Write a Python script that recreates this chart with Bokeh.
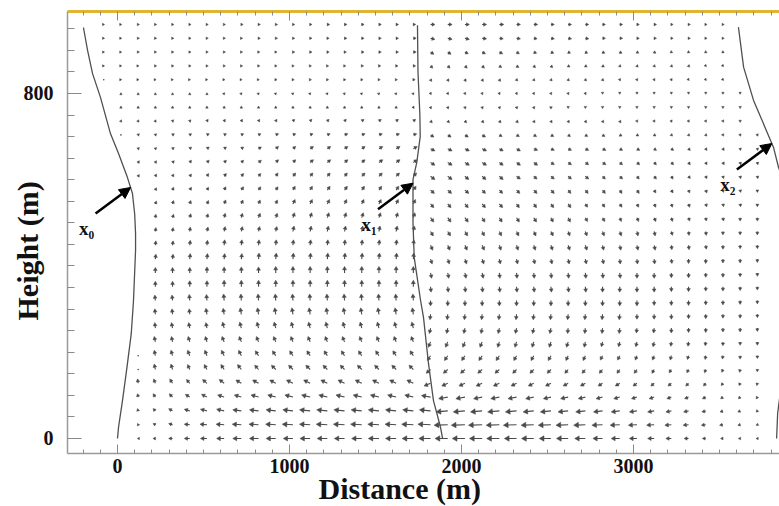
import math
import numpy as np
from bokeh.plotting import figure
from bokeh.models import (ColumnDataSource, Range1d, FixedTicker, LinearAxis,
                          Arrow, NormalHead, Title)
from bokeh.core.properties import value
from bokeh.embed import file_html
from bokeh.resources import INLINE

# ---------------- data ----------------
# grid of the vector field (distance of columns, height of rows)
dist_cols = [-80, 20, 120, 220, 320, 420, 520, 620, 720, 820, 920, 1020, 1120,
             1220, 1320, 1420, 1520, 1620, 1720, 1820, 1920, 2020, 2120, 2220,
             2320, 2420, 2520, 2620, 2720, 2820, 2920, 3020, 3120, 3220, 3320,
             3420, 3520, 3620, 3720]
height_rows = [960, 928, 896, 864, 832, 800, 768, 736, 704, 672, 640, 608, 576,
               544, 512, 480, 448, 416, 384, 352, 320, 288, 256, 224, 192, 160,
               128, 96, 64, 32, 0]

# horizontal component (arrow length, half-pixel units), one row per height
u_comp = [
    [1,1,2,2,2,2,2,2,3,3,3,3,3,4,4,4,4,4,4,8,8,8,8,8,7,7,6,6,6,5,5,4,4,3,3,2,2,0,0],
    [1,1,2,2,2,2,2,2,2,3,3,3,3,3,4,4,4,4,5,8,8,8,8,7,7,6,6,6,6,5,5,4,4,3,3,2,2,0,0],
    [1,1,2,2,2,2,2,2,2,2,2,3,3,3,3,4,4,4,5,6,6,6,6,6,5,5,5,4,4,4,4,3,3,2,2,2,2,0,0],
    [1,1,1,2,2,2,2,2,2,2,2,2,2,2,2,3,3,3,4,4,4,4,4,4,4,3,3,3,3,3,2,2,2,2,2,1,1,0,0],
    [0,1,1,1,1,1,1,1,1,1,2,2,2,2,2,2,2,2,3,2,2,2,2,2,2,2,2,2,2,2,1,1,1,1,1,1,1,1,0],
    [0,0,0,0,0,0,0,1,1,1,1,1,1,1,1,1,1,1,1,1,1,1,1,1,1,1,1,1,1,0,0,0,0,0,0,0,0,0,0],
    [0,0,0,0,0,0,0,0,0,0,0,0,0,0,0,0,0,0,1,1,1,1,1,1,1,1,0,0,0,0,0,0,0,0,0,0,0,0,0],
    [0,1,1,1,2,2,2,2,2,2,2,3,3,3,3,4,4,4,4,3,3,3,3,3,3,2,2,2,2,2,2,1,1,1,1,1,1,0,0],
    [0,0,2,2,3,3,4,4,4,4,5,5,5,5,6,6,6,6,6,6,6,6,6,5,5,5,5,4,4,4,4,3,3,2,2,2,1,1,1],
    [0,0,2,2,3,3,4,4,4,5,5,5,6,6,6,6,7,7,7,8,8,8,8,7,7,7,6,6,6,6,5,5,4,4,3,2,2,1,1],
    [0,0,2,2,3,3,4,4,4,5,5,5,6,6,6,6,7,7,7,8,8,8,8,7,7,7,6,6,6,6,5,5,4,4,3,2,2,1,1],
    [0,0,2,2,2,3,3,4,4,4,4,5,5,5,5,6,6,6,6,8,8,7,7,7,7,6,6,6,6,5,5,4,4,3,3,2,1,1,1],
    [0,0,0,2,2,3,3,3,4,4,4,4,4,5,5,5,5,5,5,7,7,7,6,6,6,6,6,5,5,5,4,4,3,3,2,2,1,1,0],
    [0,0,0,2,2,2,3,3,3,3,3,4,4,4,4,4,4,4,4,6,6,6,6,6,5,5,5,5,4,4,4,3,3,2,2,2,1,1,0],
    [0,0,0,1,2,2,2,2,2,3,3,3,3,3,3,3,3,3,3,6,6,6,5,5,5,5,4,4,4,4,3,3,3,2,2,1,1,0,0],
    [0,0,0,1,1,1,2,2,2,2,2,2,2,2,2,2,2,2,2,5,5,5,4,4,4,4,4,3,3,3,3,2,2,2,1,1,0,0,0],
    [0,0,0,1,1,1,1,1,1,1,1,1,1,1,1,1,1,1,1,4,4,4,4,3,3,3,3,3,3,2,2,2,2,1,1,1,0,0,0],
    [0,0,0,1,1,1,1,1,1,1,1,1,1,1,1,1,1,1,1,3,3,3,3,2,2,2,2,2,2,2,1,1,1,1,0,0,0,0,0],
    [0,0,0,0,0,0,0,0,0,0,0,0,0,0,0,0,0,0,0,2,2,2,2,1,1,1,1,1,1,1,1,0,0,0,0,0,0,0,0],
    [0,0,0,0,0,0,0,0,0,0,0,0,0,0,0,0,0,0,0,1,1,1,1,1,1,1,1,1,1,0,0,0,0,0,0,0,0,0,0],
    [0,0,0,-1,-1,-1,-1,-1,-1,-1,-1,-1,-1,-1,-1,-1,-1,-1,-1,0,0,0,0,0,0,0,0,0,0,0,0,0,0,0,0,0,0,0,0],
    [0,0,0,-1,-1,-1,-2,-2,-2,-2,-2,-2,-2,-2,-2,-2,-2,-2,-2,-1,-1,-1,-1,-1,-1,-1,-1,-1,-1,-1,-1,0,0,0,0,0,0,0,0],
    [0,0,0,-1,-2,-2,-2,-3,-3,-3,-3,-3,-3,-3,-3,-3,-3,-3,-3,-2,-2,-2,-2,-2,-2,-2,-2,-1,-1,-1,-1,-1,-1,0,0,0,0,0,0],
    [0,0,0,-2,-2,-3,-3,-4,-4,-4,-4,-4,-4,-4,-4,-4,-4,-4,-4,-4,-4,-4,-4,-3,-3,-3,-3,-3,-2,-2,-2,-2,-2,-1,-1,-1,0,0,0],
    [0,0,0,-2,-3,-4,-4,-5,-5,-6,-6,-6,-6,-6,-6,-6,-6,-6,-6,-6,-6,-6,-6,-6,-5,-5,-5,-4,-4,-4,-4,-3,-3,-2,-2,-1,-1,0,0],
    [0,0,0,-2,-3,-4,-5,-6,-7,-7,-8,-8,-8,-8,-8,-8,-8,-8,-8,-8,-8,-8,-8,-8,-7,-7,-7,-6,-6,-6,-5,-5,-4,-4,-3,-2,-2,-1,0],
    [0,0,-1,-3,-5,-6,-8,-9,-10,-11,-11,-12,-12,-12,-12,-12,-12,-12,-12,-12,-11,-11,-11,-11,-10,-10,-10,-9,-9,-8,-8,-7,-6,-6,-5,-4,-3,-2,-1],
    [0,0,-1,-4,-6,-8,-10,-12,-13,-14,-15,-15,-16,-16,-16,-16,-16,-16,-16,-17,-17,-17,-16,-16,-16,-15,-14,-14,-13,-12,-11,-10,-9,-8,-7,-6,-4,-3,-2],
    [0,0,-1,-4,-7,-10,-12,-14,-16,-17,-18,-19,-20,-20,-20,-20,-20,-20,-20,-21,-22,-22,-22,-22,-21,-20,-20,-19,-18,-17,-16,-14,-12,-10,-9,-7,-5,-4,-2],
    [0,0,-1,-4,-7,-10,-13,-15,-17,-18,-19,-20,-20,-21,-21,-21,-21,-21,-22,-24,-26,-26,-26,-25,-25,-24,-24,-23,-22,-20,-18,-16,-14,-12,-10,-8,-6,-4,-2],
    [0,0,-1,-4,-7,-10,-12,-14,-16,-17,-18,-18,-19,-19,-19,-19,-20,-20,-21,-22,-24,-24,-24,-24,-23,-23,-22,-22,-20,-18,-16,-14,-12,-10,-8,-6,-4,-3,-2],
]

# vertical component (arrow length, half-pixel units)
w_comp = [
    [0,0,0,0,0,0,0,0,0,0,0,0,0,0,0,0,0,0,0,0,0,0,0,0,0,0,0,0,0,0,0,0,0,0,0,0,0,0,0],
    [0,0,0,0,0,0,0,0,0,0,0,0,0,0,0,0,0,0,0,-2,-2,-2,-1,-1,-1,-1,-1,-1,-1,0,0,0,0,0,0,0,0,0,0],
    [0,0,0,0,0,0,0,0,0,0,0,0,0,0,0,0,0,0,0,-4,-4,-3,-3,-3,-3,-2,-2,-2,-2,-2,-2,-2,-2,-1,-1,-1,-1,0,0],
    [0,0,0,0,0,0,0,0,0,0,0,0,0,0,0,0,0,0,0,-4,-4,-4,-4,-3,-3,-3,-3,-2,-2,-2,-2,-2,-2,-2,-2,-1,-1,0,0],
    [0,0,0,0,0,0,0,0,0,0,0,0,0,0,0,0,0,0,0,-3,-3,-3,-3,-3,-2,-2,-2,-2,-2,-2,-2,-2,-2,-2,-1,-1,-1,-1,0],
    [0,1,1,1,1,1,1,1,1,1,1,1,1,1,1,1,1,1,1,-2,-2,-2,-2,-2,-2,-2,-2,-2,-2,-1,-1,-1,-1,-1,-1,-1,-1,-1,0],
    [0,2,2,2,2,2,2,2,2,2,2,2,2,2,2,2,2,2,2,-3,-3,-3,-3,-3,-3,-3,-3,-2,-2,-2,-2,-2,-2,-2,-2,-2,-2,-2,0],
    [0,2,2,2,2,2,3,3,3,3,3,3,3,3,3,3,3,3,3,-3,-3,-3,-3,-3,-3,-3,-3,-3,-3,-3,-3,-2,-2,-2,-2,-2,-2,-2,0],
    [0,0,2,2,2,2,2,2,2,2,2,2,2,2,2,2,2,2,2,-4,-4,-4,-4,-3,-3,-3,-3,-3,-3,-3,-2,-2,-2,-2,-2,-2,-2,-2,-2],
    [0,0,2,2,2,3,3,3,3,3,4,4,4,4,4,4,4,4,4,-4,-4,-4,-4,-4,-4,-3,-3,-3,-3,-3,-3,-3,-3,-3,-3,-3,-3,-3,-3],
    [0,0,3,3,3,4,4,4,4,4,5,5,5,5,5,5,5,5,5,-5,-5,-5,-5,-5,-5,-5,-4,-4,-4,-4,-4,-4,-4,-4,-4,-4,-4,-4,-4],
    [0,0,3,4,4,4,5,5,5,5,6,6,6,6,6,6,6,6,6,-6,-6,-6,-6,-6,-5,-5,-5,-5,-5,-5,-5,-5,-5,-5,-4,-4,-4,-4,-4],
    [0,0,0,4,5,5,5,6,6,6,6,7,7,7,7,7,7,7,7,-6,-6,-6,-6,-6,-6,-6,-6,-6,-6,-6,-6,-6,-5,-5,-5,-5,-4,-4,-4],
    [0,0,0,5,6,6,6,7,7,7,7,8,8,8,8,8,8,8,8,-7,-7,-7,-7,-7,-7,-7,-7,-7,-6,-6,-6,-6,-6,-6,-6,-5,-5,-5,-5],
    [0,0,0,6,6,7,7,8,8,8,8,9,9,9,9,9,9,9,9,-8,-8,-8,-8,-8,-8,-8,-8,-8,-7,-7,-7,-7,-7,-7,-6,-6,-6,-6,-6],
    [0,0,0,7,7,8,8,9,9,9,9,10,10,10,10,10,10,10,10,-8,-8,-8,-8,-8,-8,-8,-8,-8,-8,-8,-8,-8,-8,-7,-7,-7,-6,-6,-6],
    [0,0,0,8,8,9,9,10,10,10,10,10,10,10,10,10,10,10,10,-9,-9,-9,-9,-9,-9,-9,-9,-9,-9,-9,-9,-9,-9,-8,-8,-7,-7,-6,-6],
    [0,0,0,9,9,10,10,10,10,11,11,11,11,11,11,11,11,11,11,-9,-9,-9,-9,-9,-9,-9,-9,-9,-9,-9,-9,-9,-9,-8,-8,-8,-7,-7,-6],
    [0,0,0,10,10,10,11,11,11,11,12,12,12,12,12,12,12,12,12,-10,-10,-10,-10,-10,-10,-10,-10,-10,-10,-10,-10,-10,-10,-9,-9,-8,-8,-7,-6],
    [0,0,0,10,10,11,11,12,12,12,12,12,12,12,12,12,12,12,12,-10,-10,-10,-10,-10,-10,-10,-10,-10,-10,-10,-10,-10,-10,-9,-9,-8,-8,-7,-6],
    [0,0,0,10,10,11,11,12,12,12,12,12,12,12,12,12,12,12,12,-10,-10,-10,-10,-10,-10,-10,-10,-10,-10,-10,-10,-10,-9,-9,-9,-8,-8,-7,-6],
    [0,0,0,10,10,10,11,11,12,12,12,12,12,12,12,12,12,12,12,-10,-10,-10,-10,-10,-10,-10,-10,-10,-10,-10,-10,-9,-9,-9,-8,-8,-7,-7,-6],
    [0,0,0,10,10,10,10,11,11,11,11,11,11,11,11,11,11,11,11,-10,-10,-10,-10,-10,-10,-10,-10,-10,-10,-10,-10,-9,-9,-9,-8,-8,-7,-7,-6],
    [0,0,0,10,10,10,10,10,10,10,10,10,10,10,10,10,10,10,10,-10,-10,-10,-10,-10,-10,-10,-10,-10,-10,-9,-9,-9,-9,-8,-8,-7,-7,-6,-6],
    [0,0,0,10,10,10,10,10,10,9,9,9,9,9,9,9,9,9,9,-9,-9,-9,-9,-9,-9,-9,-9,-9,-9,-8,-8,-8,-8,-8,-7,-7,-6,-6,-5],
    [0,0,0,10,10,9,9,9,9,8,8,8,8,8,8,8,8,8,8,-7,-7,-7,-7,-7,-7,-7,-7,-7,-7,-7,-7,-7,-7,-6,-6,-6,-5,-5,-4],
    [0,0,8,8,8,7,7,7,6,6,6,6,6,6,6,6,6,6,6,-5,-5,-5,-5,-5,-5,-5,-5,-5,-5,-5,-5,-5,-5,-5,-5,-5,-4,-4,-4],
    [0,0,6,6,6,5,5,4,4,4,4,4,4,4,4,4,4,4,4,3,-3,-3,-3,-3,-3,-3,-3,-3,-3,-3,-3,-3,-3,-3,-3,-3,-3,-3,-3],
    [0,0,4,4,4,3,3,3,2,2,2,2,2,2,2,2,2,2,2,2,-2,-2,-2,-2,-2,-2,-2,-2,-2,-2,-2,-2,-2,-2,-2,-2,-2,-2,-2],
    [0,0,2,2,2,1,1,1,1,1,1,1,1,1,1,1,1,1,1,1,-1,-1,-1,-1,-1,-1,-1,-1,-1,-1,-1,-1,-1,-1,-1,-1,-1,-1,-1],
    [0,0,0,0,0,0,0,0,0,0,0,0,0,0,0,0,0,0,0,0,0,0,0,0,0,0,0,0,0,0,0,0,0,0,0,0,0,0,0],
]

# material lines x0, x1, x2 (height, distance)
x0_h = [953, 900, 846, 791, 707, 661, 605, 568, 520, 475, 436, 320, 243, 165, 88, 26, 0]
x0_x = [-198, -174, -145, -99, -41, 6, 58, 87, 100, 105, 105, 93, 80, 55, 29, 6, 0]
x1_h = [958, 850, 750, 700, 640, 600, 500, 420, 320, 281, 174, 88, 26, 0]
x1_x = [1744, 1747, 1758, 1760, 1740, 1718, 1718, 1725, 1762, 1779, 1808, 1837, 1878, 1890]
x2_h = [954, 861, 784, 708, 675, 629, 568, 475, 436, 320, 243, 111, 58, 0]
x2_x = [3610, 3640, 3698, 3779, 3814, 3843, 3897, 3915, 3915, 3903, 3890, 3855, 3838, 3832]

# pointer labels: text and the height at which each arrow touches its line
ptr_text = ["x\u2080", "x\u2081", "x\u2082"]
ptr_height = [582, 592, 684]

x_major = [0, 1000, 2000, 3000]
y_major = [0, 800]

for row in u_comp + w_comp:
    assert len(row) == len(dist_cols)
assert len(u_comp) == len(height_rows) and len(w_comp) == len(height_rows)

# ---------------- geometry ----------------
W, H = 779, 506
BL, BR, BT, BB = 67, 0, 11, 53
FW, FH = W - BL - BR, H - BT - BB
X_START, X_END = -290.7, 3848.8
Y_START, Y_END = -34.8, 990.1
sx = FW / (X_END - X_START)   # px per metre, horizontal
sy = FH / (Y_END - Y_START)   # px per metre, vertical
UNIT_PX = 0.5                 # arrow length in px per unit

SERIF = "Liberation Serif"
ARROW_COL = "#4a4a4a"
AXIS_COL = "#9a9a9a"
TICK_COL = "#8a8a8a"

p = figure(width=W, height=H, x_range=Range1d(X_START, X_END),
           y_range=Range1d(Y_START, Y_END), output_backend="svg",
           toolbar_location=None, min_border_left=BL, min_border_right=BR,
           min_border_top=BT, min_border_bottom=BB,
           background_fill_color="white", border_fill_color="white")
p.outline_line_color = None
p.grid.visible = False

# ---------------- axes ----------------
x_minor = [v for v in range(-200, 3900, 100) if v not in x_major]
y_minor = [v for v in range(50, 1000, 50) if v not in y_major]
p.xaxis.ticker = FixedTicker(ticks=x_major, minor_ticks=x_minor)
p.yaxis.ticker = FixedTicker(ticks=y_major, minor_ticks=y_minor)

for ax in (p.xaxis[0], p.yaxis[0]):
    ax.axis_line_color = AXIS_COL
    ax.axis_line_width = 1.5
    ax.major_tick_line_color = TICK_COL
    ax.minor_tick_line_color = TICK_COL
    ax.major_tick_out = 0
    ax.minor_tick_out = 0
    ax.major_label_text_font = SERIF
    ax.major_label_text_font_style = "bold"
    ax.major_label_text_font_size = "20px"
    ax.major_label_text_color = "#111111"
p.xaxis.major_tick_in = 9
p.xaxis.minor_tick_in = 4
p.xaxis.major_label_standoff = 5
p.yaxis.major_tick_in = 14
p.yaxis.minor_tick_in = 7
p.yaxis.major_label_standoff = 14

# axis titles as side titles, offset to where the reference puts them
p.add_layout(Title(text="Height (m)", align="left", offset=133,
                   vertical_align="bottom", standoff=-46, text_font=SERIF,
                   text_font_style="bold", text_font_size="30px",
                   text_color="#111111"), "left")
p.add_layout(Title(text="Distance (m)", align="left", offset=251,
                   vertical_align="bottom", standoff=-12, text_font=SERIF,
                   text_font_style="bold", text_font_size="30px",
                   text_color="#111111"), "below")

top = LinearAxis(ticker=FixedTicker(ticks=x_major, minor_ticks=x_minor))
top.axis_line_color = "#e2b434"
top.axis_line_width = 3
top.major_tick_line_color = TICK_COL
top.minor_tick_line_color = TICK_COL
top.major_tick_in = 9
top.minor_tick_in = 4
top.major_tick_out = 0
top.minor_tick_out = 0
top.major_label_text_color = None
top.major_label_text_font_size = "0px"
top.major_label_standoff = 0
p.add_layout(top, "above")

# ---------------- vector field ----------------
h0a, x0a = x0_h[::-1], x0_x[::-1]
h2a, x2a = x2_h[::-1], x2_x[::-1]
seg = dict(xs=[], ys=[], xe=[], ye=[])
head = dict(x=[], y=[], angle=[], size=[])
dots = dict(x=[], y=[])
for i, hgt in enumerate(height_rows):
    lo = np.interp(hgt, h0a, x0a) + 50
    hi = np.interp(hgt, h2a, x2a) - 50
    for j, xc in enumerate(dist_cols):
        if xc <= lo or xc >= hi:
            continue
        upx = u_comp[i][j] * UNIT_PX
        wpx = w_comp[i][j] * UNIT_PX
        L = math.hypot(upx, wpx)
        if L < 0.25:
            dots["x"].append(xc)
            dots["y"].append(hgt)
            continue
        ux, uy = upx / L, wpx / L
        hs = min(5.5, 2.2 + 0.3 * L)
        back = 0.45 * hs
        tx, ty = xc + upx / sx, hgt + wpx / sy
        cx, cy = tx - ux * back / sx, ty - uy * back / sy
        seg["xs"].append(xc); seg["ys"].append(hgt)
        seg["xe"].append(cx); seg["ye"].append(cy)
        head["x"].append(cx); head["y"].append(cy)
        head["angle"].append(math.atan2(wpx, upx) - math.pi / 2)
        head["size"].append(hs)

p.segment(x0="xs", y0="ys", x1="xe", y1="ye", source=ColumnDataSource(seg),
          line_color=ARROW_COL, line_width=1.1)
p.scatter(x="x", y="y", angle="angle", size="size", marker="triangle",
          source=ColumnDataSource(head), fill_color=ARROW_COL,
          line_color=ARROW_COL, line_width=0.5)
p.scatter(x="x", y="y", size=1.6, marker="circle", source=ColumnDataSource(dots),
          fill_color=ARROW_COL, line_color=None)

# ---------------- material lines ----------------
for xx, hh in ((x0_x, x0_h), (x1_x, x1_h), (x2_x, x2_h)):
    p.line(xx, hh, line_color="#505050", line_width=1.3)

# ---------------- pointer arrows and labels ----------------
curves = [(x0_h, x0_x), (x1_h, x1_x), (x2_h, x2_x)]
hx = [float(np.interp(hh, c[0][::-1], c[1][::-1])) for hh, c in zip(ptr_height, curves)]
hy = list(ptr_height)
tx = [v - 35 / sx for v in hx]
ty = [v - 26 / sy for v in hy]
lx = [v - 9 / sx for v in tx]
ly = [v - 15 / sy for v in ty]
p.add_layout(Arrow(end=NormalHead(size=11, fill_color="black", line_color="black"),
                   x_start="xs", y_start="ys", x_end="xe", y_end="ye",
                   source=ColumnDataSource(dict(xs=tx, ys=ty, xe=hx, ye=hy)),
                   line_color="black", line_width=2.5))
p.text(x=lx, y=ly, text=ptr_text, text_font=value(SERIF), text_font_style="bold",
       text_font_size="19px", text_align="center", text_baseline="middle",
       text_color="#111111")

open("out.html", "w").write(file_html(p, INLINE))
